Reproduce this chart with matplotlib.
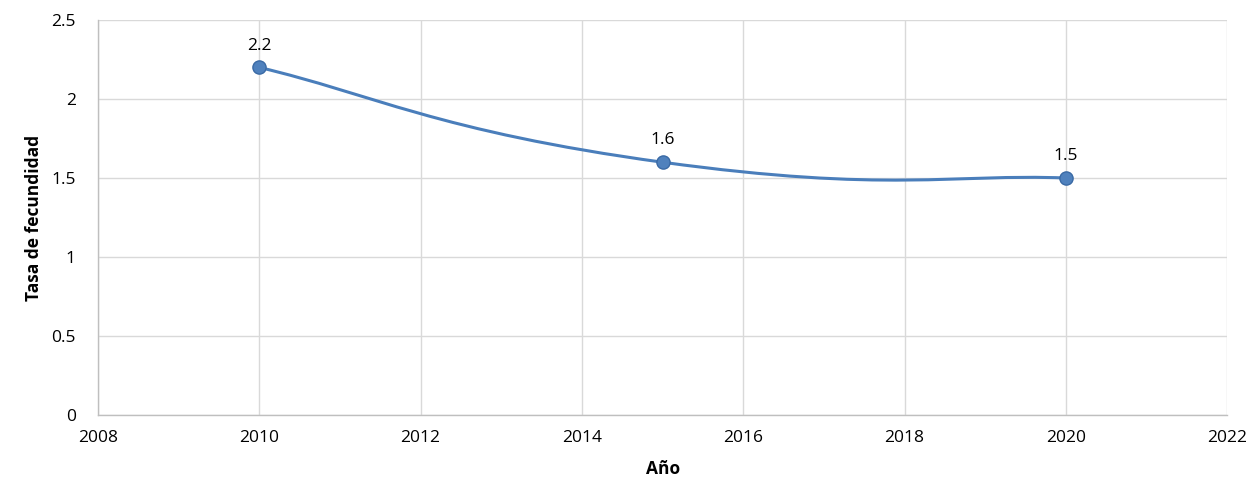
import matplotlib.pyplot as plt
from matplotlib.path import Path
from matplotlib.patches import PathPatch
import numpy as np

# datos
anios = [2010, 2015, 2020]
tasa = [2.2, 1.6, 1.5]
etiquetas = ['2.2', '1.6', '1.5']
xticks = [2008, 2010, 2012, 2014, 2016, 2018, 2020, 2022]
yticks = [0, 0.5, 1, 1.5, 2, 2.5]

plt.rcParams['font.family'] = ['Open Sans', 'DejaVu Sans']


def curva_suave(x, y, k=0.28):
    # curva tipo Excel (bezier cubica a traves de los puntos)
    pts = np.column_stack([x, y]).astype(float)
    n = len(pts)
    verts = [pts[0]]
    codes = [Path.MOVETO]
    for i in range(n - 1):
        p0 = pts[max(i - 1, 0)]
        p1 = pts[i]
        p2 = pts[i + 1]
        p3 = pts[min(i + 2, n - 1)]
        c1 = p1 + k * (p2 - p0)
        c2 = p2 - k * (p3 - p1)
        verts += [c1, c2, p2]
        codes += [Path.CURVE4] * 3
    return Path(verts, codes)


fig = plt.figure(figsize=(12.51, 4.79), dpi=100)
ax = fig.add_axes([0.0783, 0.1336, 0.9027, 0.8246])

azul = '#4A7EBB'
ax.add_patch(PathPatch(curva_suave(anios, tasa), fill=False, edgecolor=azul, lw=2.2, zorder=3))
ax.plot(anios, tasa, ls='none', marker='o', ms=9.5, mfc='#4F81BD', mec='#3A6AA5', mew=1, zorder=4)

for x, y, t in zip(anios, tasa, etiquetas):
    ax.annotate(t, (x, y), xytext=(0, 10), textcoords='offset points', ha='center', va='bottom', fontsize=12.5)

ax.set_xlim(2008, 2022)
ax.set_ylim(0, 2.5)
ax.set_xticks(xticks)
ax.set_yticks(yticks)
ax.set_yticklabels(['0', '0.5', '1', '1.5', '2', '2.5'])
ax.tick_params(axis='x', labelsize=12.5, length=0, pad=11)
ax.tick_params(axis='y', labelsize=12.5, length=0, pad=16)
ax.grid(True, color='#D9D9D9', lw=1)
ax.set_axisbelow(True)
for s in ['top', 'right']:
    ax.spines[s].set_visible(False)
for s in ['left', 'bottom']:
    ax.spines[s].set_color('#BFBFBF')
    ax.spines[s].set_linewidth(1)

ax.set_xlabel('Año', fontsize=12.5, fontweight='bold', labelpad=10)
ax.set_ylabel('Tasa de fecundidad', fontsize=12.5, fontweight='bold', labelpad=6)

plt.savefig('out.png', dpi=100)
plt.close()
